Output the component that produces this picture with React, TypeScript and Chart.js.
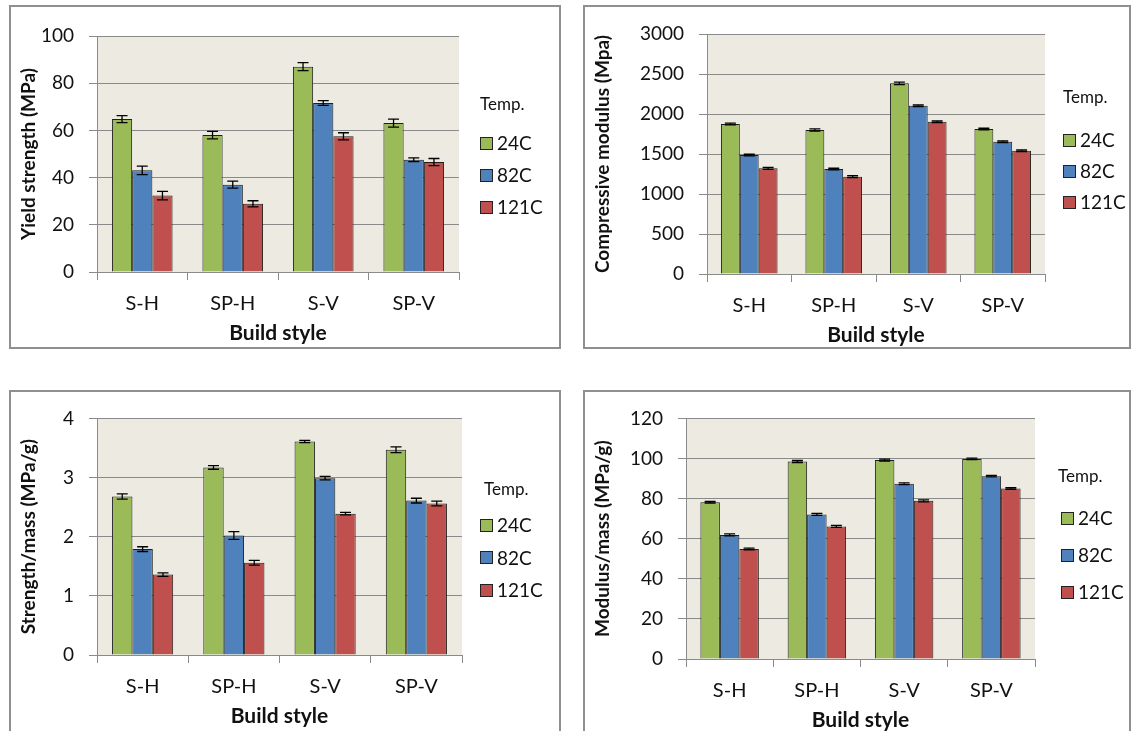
import React, { useEffect, useRef } from "react";
import { Chart, registerables } from "chart.js";
Chart.register(...registerables);

// ---------- data ----------
const categories = ["S-H", "SP-H", "S-V", "SP-V"];
const temps = ["24C", "82C", "121C"];
const legendTitle = "Temp.";
const xTitle = "Build style";

// Yield strength (MPa)
const yield24 = [64.8, 58.0, 87.0, 63.1];
const yield82 = [43.1, 37.0, 71.6, 47.6];
const yield121 = [32.4, 28.9, 57.5, 46.6];
const yieldErr24 = [1.5, 1.6, 1.7, 1.7];
const yieldErr82 = [1.8, 1.5, 1.0, 0.8];
const yieldErr121 = [1.8, 1.3, 1.5, 1.5];

// Compressive modulus (Mpa)
const cmod24 = [1875, 1800, 2383, 1812];
const cmod82 = [1487, 1312, 2104, 1654];
const cmod121 = [1321, 1216, 1904, 1541];
const cmodErr24 = [12, 15, 15, 10];
const cmodErr82 = [10, 10, 10, 10];
const cmodErr121 = [12, 12, 10, 10];

// Strength/mass (MPa/g)
const smass24 = [2.68, 3.17, 3.61, 3.47];
const smass82 = [1.79, 2.02, 2.99, 2.61];
const smass121 = [1.36, 1.56, 2.39, 2.56];
const smassErr24 = [0.045, 0.03, 0.02, 0.05];
const smassErr82 = [0.04, 0.065, 0.03, 0.04];
const smassErr121 = [0.03, 0.04, 0.02, 0.04];

// Modulus/mass (MPa/g)
const mmass24 = [78.2, 98.5, 99.2, 99.8];
const mmass82 = [61.9, 72.1, 87.4, 91.2];
const mmass121 = [54.9, 66.1, 78.9, 85.0];
const mmassErr24 = [0.4, 0.5, 0.5, 0.4];
const mmassErr82 = [0.5, 0.5, 0.4, 0.4];
const mmassErr121 = [0.4, 0.5, 0.5, 0.4];

// ---------- styles ----------
const colors = ["#9BBB59", "#4F81BD", "#C0504D"];
const FONT = "Lato";
const GRID = "#8a8a8a";
const TEXT = "#111";

type Spec = {
  yTitle: string;
  max: number;
  step: number;
  series: number[][];
  errors: number[][];
  panel: { x: number; y: number; w: number; h: number };
  area: { l: number; r: number; t: number; b: number };
  legend: { titleX: number; titleY: number; boxX: number; y0: number; gap: number };
};

const specs: Spec[] = [
  {
    yTitle: "Yield strength (MPa)",
    max: 100,
    step: 20,
    series: [yield24, yield82, yield121],
    errors: [yieldErr24, yieldErr82, yieldErr121],
    panel: { x: 9, y: 5, w: 552, h: 344 },
    area: { l: 97, r: 459, t: 36, b: 272 },
    legend: { titleX: 480, titleY: 105, boxX: 480, y0: 143, gap: 32 },
  },
  {
    yTitle: "Compressive modulus (Mpa)",
    max: 3000,
    step: 500,
    series: [cmod24, cmod82, cmod121],
    errors: [cmodErr24, cmodErr82, cmodErr121],
    panel: { x: 583, y: 5, w: 548, h: 344 },
    area: { l: 707, r: 1045, t: 34, b: 274 },
    legend: { titleX: 1063, titleY: 98, boxX: 1063, y0: 140, gap: 31 },
  },
  {
    yTitle: "Strength/mass (MPa/g)",
    max: 4,
    step: 1,
    series: [smass24, smass82, smass121],
    errors: [smassErr24, smassErr82, smassErr121],
    panel: { x: 9, y: 390, w: 552, h: 350 },
    area: { l: 97, r: 462, t: 417, b: 655 },
    legend: { titleX: 484, titleY: 490, boxX: 480, y0: 525, gap: 32.5 },
  },
  {
    yTitle: "Modulus/mass (MPa/g)",
    max: 120,
    step: 20,
    series: [mmass24, mmass82, mmass121],
    errors: [mmassErr24, mmassErr82, mmassErr121],
    panel: { x: 583, y: 390, w: 548, h: 350 },
    area: { l: 686, r: 1035, t: 412, b: 659 },
    legend: { titleX: 1058, titleY: 477, boxX: 1061, y0: 518, gap: 37 },
  },
];

const X_AXIS_H = 76;

const bgPlugin = {
  id: "plotBg",
  beforeDraw(chart: any) {
    const { ctx, chartArea: a } = chart;
    ctx.save();
    ctx.fillStyle = "#EDEBE1";
    ctx.fillRect(a.left, a.top, a.right - a.left, a.bottom - a.top);
    ctx.restore();
  },
};

const errorBarPlugin = {
  id: "errorBars",
  afterDatasetsDraw(chart: any) {
    const ctx = chart.ctx;
    const yScale = chart.scales.y;
    const cap = 11;
    ctx.save();
    ctx.strokeStyle = "#000";
    ctx.lineWidth = 1.3;
    chart.data.datasets.forEach((ds: any, i: number) => {
      const meta = chart.getDatasetMeta(i);
      meta.data.forEach((bar: any, j: number) => {
        const v = ds.data[j];
        const e = ds.errors ? ds.errors[j] : 0;
        const x = bar.x;
        const y1 = yScale.getPixelForValue(v + e);
        const y2 = yScale.getPixelForValue(v - e);
        ctx.beginPath();
        ctx.moveTo(x, y1);
        ctx.lineTo(x, y2);
        ctx.moveTo(x - cap / 2, y1);
        ctx.lineTo(x + cap / 2, y1);
        ctx.moveTo(x - cap / 2, y2);
        ctx.lineTo(x + cap / 2, y2);
        ctx.stroke();
      });
    });
    ctx.restore();
  },
};

function makeLegend(cfg: Spec["legend"], cl: number, ct: number) {
  return {
    id: "tempLegend",
    afterDraw(chart: any) {
      const ctx = chart.ctx;
      ctx.save();
      ctx.textBaseline = "middle";
      ctx.textAlign = "left";
      ctx.fillStyle = TEXT;
      ctx.font = `17px ${FONT}`;
      ctx.fillText(legendTitle, cfg.titleX - cl, cfg.titleY - ct);
      chart.data.datasets.forEach((ds: any, i: number) => {
        const cy = cfg.y0 + i * cfg.gap - ct;
        const bx = cfg.boxX - cl;
        ctx.fillStyle = ds.backgroundColor;
        ctx.fillRect(bx, Math.round(cy - 6.5), 13, 13);
        ctx.strokeStyle = "#222";
        ctx.lineWidth = 1;
        ctx.strokeRect(bx + 0.5, Math.round(cy - 6.5) + 0.5, 12, 12);
        ctx.fillStyle = TEXT;
        ctx.font = `19px ${FONT}`;
        ctx.fillText(ds.label, bx + 17, cy + 1);
      });
      ctx.restore();
    },
  };
}

function Panel({ spec }: { spec: Spec }) {
  const ref = useRef<HTMLCanvasElement | null>(null);
  const cl = spec.panel.x + 2;
  const ct = spec.panel.y + 2;
  const cw = spec.panel.w - 4;
  const ch = spec.area.b - ct + X_AXIS_H;
  const yW = spec.area.l - cl;
  const padTop = spec.area.t - ct;
  const padRight = cl + cw - spec.area.r;

  useEffect(() => {
    const canvas = ref.current;
    if (!canvas) return;
    const chart = new Chart(canvas, {
      type: "bar",
      data: {
        labels: categories,
        datasets: temps.map((t, i) => ({
          label: t,
          data: spec.series[i],
          errors: spec.errors[i],
          backgroundColor: colors[i],
          borderColor: "#1e1e1e",
          borderWidth: 1,
          categoryPercentage: 0.67,
          barPercentage: 1,
        })) as any,
      },
      options: {
        responsive: false,
        maintainAspectRatio: false,
        animation: false,
        devicePixelRatio: 1,
        layout: { padding: { left: 0, top: padTop, right: padRight, bottom: 0 } },
        plugins: { legend: { display: false }, tooltip: { enabled: false } },
        scales: {
          x: {
            grid: {
              display: true,
              drawOnChartArea: false,
              drawTicks: true,
              tickLength: 8,
              color: GRID,
              offset: true,
            },
            border: { display: true, color: GRID, width: 1 },
            ticks: { font: { family: FONT, size: 20 }, color: TEXT, padding: 12 },
            title: {
              display: true,
              text: xTitle,
              font: { family: FONT, size: 21, weight: "bold" },
              color: TEXT,
              padding: { top: 0, bottom: 2 },
            },
            afterFit: (s: any) => {
              s.height = X_AXIS_H;
            },
          },
          y: {
            min: 0,
            max: spec.max,
            ticks: {
              stepSize: spec.step,
              font: { family: FONT, size: 19 },
              color: TEXT,
              padding: 15,
              callback: (v: any) => String(v),
            },
            grid: { color: GRID, tickLength: 8 },
            border: { display: true, color: GRID, width: 1 },
            title: {
              display: true,
              text: spec.yTitle,
              font: { family: FONT, size: 19, weight: "bold" },
              color: TEXT,
              padding: { top: 6, bottom: 0 },
            },
            afterFit: (s: any) => {
              s.width = yW;
            },
          },
        },
      } as any,
      plugins: [bgPlugin, errorBarPlugin, makeLegend(spec.legend, cl, ct)],
    });
    return () => chart.destroy();
  }, []);

  return (
    <>
      <div
        style={{
          position: "absolute",
          left: spec.panel.x,
          top: spec.panel.y,
          width: spec.panel.w,
          height: spec.panel.h,
          border: "2px solid #8f8f8f",
          boxSizing: "border-box",
          background: "#fff",
        }}
      />
      <canvas
        ref={ref}
        width={cw}
        height={ch}
        style={{ position: "absolute", left: cl, top: ct, width: cw, height: ch }}
      />
    </>
  );
}

export default function App() {
  return (
    <div
      style={{
        position: "absolute",
        left: 0,
        top: 0,
        width: 1133,
        height: 731,
        overflow: "hidden",
        background: "#fff",
      }}
    >
      {specs.map((s, i) => (
        <Panel key={i} spec={s} />
      ))}
    </div>
  );
}
